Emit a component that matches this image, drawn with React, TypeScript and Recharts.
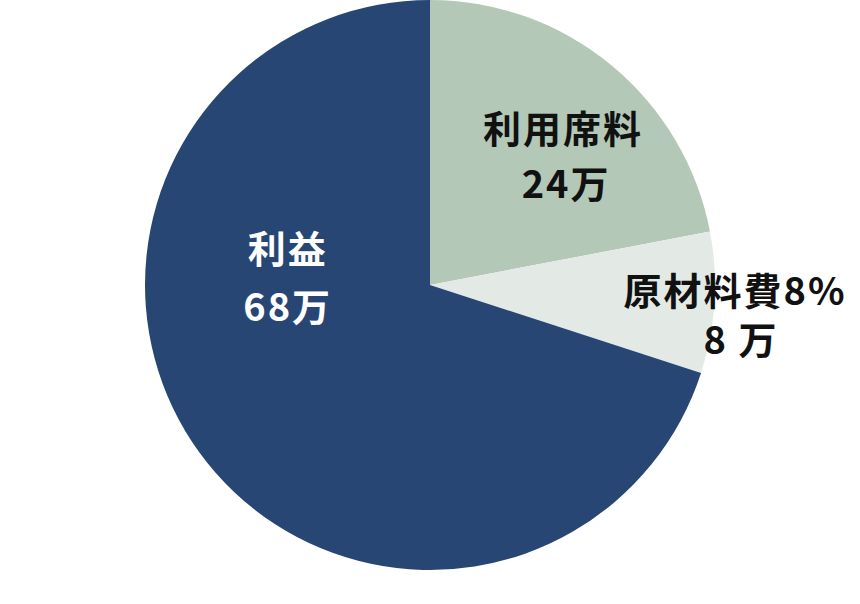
import { PieChart, Pie, Cell } from 'recharts'

// slice sizes as drawn (share of the circle), label text as printed
const categories = ['利用席料', '原材料費8%', '利益']
const sliceValues = [22, 8, 70]
const amountLabels = ['24万', '8 万', '68万']
const sliceColors = ['#B3C8B7', '#E3EAE5', '#284674']
const labelColors = ['#111111', '#111111', '#FFFFFF']

// where each label sits, relative to pie centre: radius as share of outerRadius, angle in degrees
const labelPlace = [
 { r: 0.648, angle: 43.9, gap: 27.5, dx: [0, 3] },
 { r: 1.09, angle: -5.7, gap: 24.5, dx: [-4, 2] },
 { r: 0.5, angle: 177, gap: 29, dx: [0, 0] },
]

const data = categories.map((name, i) => ({ name, value: sliceValues[i], amount: amountLabels[i] }))

const RAD = Math.PI / 180

function renderLabel(props: any) {
 const { cx, cy, outerRadius, index } = props
 const p = labelPlace[index]
 const x = cx + outerRadius * p.r * Math.cos(p.angle * RAD)
 const y = cy - outerRadius * p.r * Math.sin(p.angle * RAD) - 3
 return (
 <text
 x={x}
 y={y}
 fill={labelColors[index]}
 textAnchor="middle"
 dominantBaseline="central"
 style={{ fontFamily: '"Noto Sans CJK JP", "Noto Sans", sans-serif', fontSize: 38, fontWeight: 700, letterSpacing: 2 }}
 >
 <tspan x={x + p.dx[0]} y={y - p.gap}>{data[index].name}</tspan>
 <tspan x={x + p.dx[1]} y={y + p.gap}>{data[index].amount}</tspan>
 </text>
 )
}

export default function App() {
 return (
 <div style={{ position: 'absolute', left: 0, top: 0, width: 860, height: 604, background: '#fff' }}>
 <PieChart width={860} height={604} margin={{ top: 0, right: 0, bottom: 0, left: 0 }}>
 <Pie
 data={data}
 dataKey="value"
 nameKey="name"
 cx={430}
 cy={285}
 outerRadius={285}
 startAngle={90}
 endAngle={-270}
 stroke="none"
 label={renderLabel}
 labelLine={false}
 isAnimationActive={false}
 >
 {data.map((d, i) => (
 <Cell key={d.name} fill={sliceColors[i]} />
 ))}
 </Pie>
 </PieChart>
 </div>
 )
}
